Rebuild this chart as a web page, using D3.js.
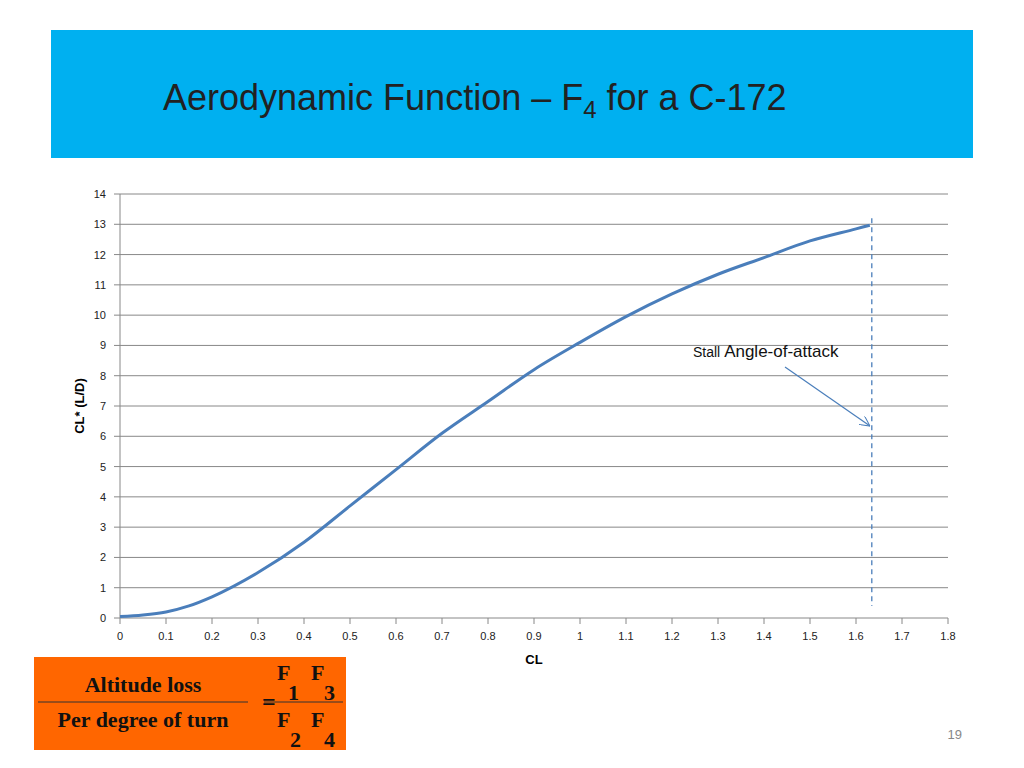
<!DOCTYPE html>
<html><head><meta charset="utf-8">
<script src="https://cdn.jsdelivr.net/npm/d3@7"></script>
<style>body{margin:0;background:#fff;}svg{display:block;}</style>
</head><body>
<svg id="c" width="1024" height="768"></svg>
<script>
const clValues=[0,0.05,0.1,0.15,0.2,0.3,0.4,0.5,0.6,0.7,0.8,0.9,1.0,1.1,1.2,1.3,1.4,1.5,1.6,1.63];
const f4Values=[0.05,0.1,0.2,0.4,0.7,1.5,2.5,3.7,4.9,6.1,7.15,8.2,9.1,9.95,10.7,11.35,11.9,12.45,12.85,12.97];
const xTicks=[0,0.1,0.2,0.3,0.4,0.5,0.6,0.7,0.8,0.9,1,1.1,1.2,1.3,1.4,1.5,1.6,1.7,1.8];
const yTicks=d3.range(0,15);
const stallCL=1.63;

const svg=d3.select("#c");
svg.append("rect").attr("x",51).attr("y",30).attr("width",922).attr("height",128).attr("fill","#00b0f0");
const t=svg.append("text").attr("x",163).attr("y",110).attr("font-family","Liberation Sans, Arial").attr("font-size",36).attr("fill","#222");
t.append("tspan").text("Aerodynamic Function – F");
t.append("tspan").attr("font-size",24).attr("dy",8).text("4");
t.append("tspan").attr("dy",-8).text("  for a C-172");

const x=d3.scaleLinear().domain([0,1.8]).range([120,948]);
const y=d3.scaleLinear().domain([0,14]).range([618,194]);
const g=svg.append("g");
g.selectAll("line.grid").data(yTicks).join("line").attr("x1",120).attr("x2",948)
 .attr("y1",d=>y(d)).attr("y2",d=>y(d)).attr("stroke","#888").attr("stroke-width",1);
g.append("line").attr("x1",120).attr("x2",120).attr("y1",194).attr("y2",618).attr("stroke","#888");
g.selectAll("line.yt").data(yTicks).join("line").attr("x1",114).attr("x2",120).attr("y1",d=>y(d)).attr("y2",d=>y(d)).attr("stroke","#888");
g.selectAll("line.xt").data(xTicks).join("line").attr("x1",d=>x(d)).attr("x2",d=>x(d)).attr("y1",618).attr("y2",624).attr("stroke","#888");
g.selectAll("text.y").data(yTicks).join("text").attr("x",106).attr("y",d=>y(d)+4).attr("text-anchor","end")
 .attr("font-family","Liberation Sans, Arial").attr("font-size",11).attr("fill","#222").text(d=>d);
g.selectAll("text.x").data(xTicks).join("text").attr("x",d=>x(d)).attr("y",640).attr("text-anchor","middle")
 .attr("font-family","Liberation Sans, Arial").attr("font-size",11).attr("fill","#222").text(d=>d);
svg.append("text").attr("x",534).attr("y",664).attr("text-anchor","middle").attr("font-family","Liberation Sans, Arial").attr("font-weight","bold").attr("font-size",13).text("CL");
svg.append("text").attr("transform","translate(84,406) rotate(-90)").attr("text-anchor","middle").attr("font-family","Liberation Sans, Arial").attr("font-weight","bold").attr("font-size",13).text("CL* (L/D)");

const pts=clValues.map((c,i)=>[c,f4Values[i]]);
svg.append("path").datum(pts).attr("fill","none").attr("stroke","#4a7ebb").attr("stroke-width",3)
 .attr("d",d3.line().x(d=>x(d[0])).y(d=>y(d[1])).curve(d3.curveMonotoneX));

svg.append("line").attr("x1",x(stallCL)+2).attr("x2",x(stallCL)+2).attr("y1",y(13.2)).attr("y2",y(0.4))
 .attr("stroke","#4a7ebb").attr("stroke-width",1.3).attr("stroke-dasharray","5,4");
const lt=svg.append("text").attr("x",693).attr("y",357).attr("font-family","Liberation Sans, Arial").attr("fill","#111");
lt.append("tspan").attr("font-size",14).text("Stall ");
lt.append("tspan").attr("font-size",17).text("Angle-of-attack");
svg.append("defs").append("marker").attr("id","ah").attr("viewBox","0 0 10 10").attr("refX",10).attr("refY",5)
 .attr("markerWidth",10).attr("markerHeight",10).attr("orient","auto").attr("markerUnits","userSpaceOnUse")
 .append("path").attr("d","M0,0 L10,5 L0,10").attr("fill","none").attr("stroke","#4a7ebb");
svg.append("line").attr("x1",785).attr("y1",367).attr("x2",870).attr("y2",426).attr("stroke","#4a7ebb").attr("stroke-width",1.2).attr("marker-end","url(#ah)");

svg.append("rect").attr("x",34).attr("y",657).attr("width",312).attr("height",93).attr("fill","#ff6600");
const ff="Liberation Serif, Times New Roman";
function tx(xp,yp,s,txt,anchor){svg.append("text").attr("x",xp).attr("y",yp).attr("font-family",ff).attr("font-weight","bold").attr("font-size",s).attr("text-anchor",anchor||"start").attr("fill","#111").text(txt);}
tx(143,692,22,"Altitude loss","middle");
tx(143,727,22,"Per degree of turn","middle");
svg.append("line").attr("x1",38).attr("x2",248).attr("y1",702).attr("y2",702).attr("stroke","#333");
svg.append("line").attr("x1",264).attr("x2",343).attr("y1",702).attr("y2",702).attr("stroke","#333");
tx(262,710,24,"=");
tx(277,680,22,"F");tx(288,700,22,"1");tx(311,680,22,"F");tx(324,700,22,"3");
tx(277,727,22,"F");tx(290,747,22,"2");tx(311,727,22,"F");tx(324,747,22,"4");
svg.append("text").attr("x",962).attr("y",739).attr("text-anchor","end").attr("font-family","Liberation Sans, Arial").attr("font-size",13).attr("fill","#888").text("19");
</script>
</body></html>
